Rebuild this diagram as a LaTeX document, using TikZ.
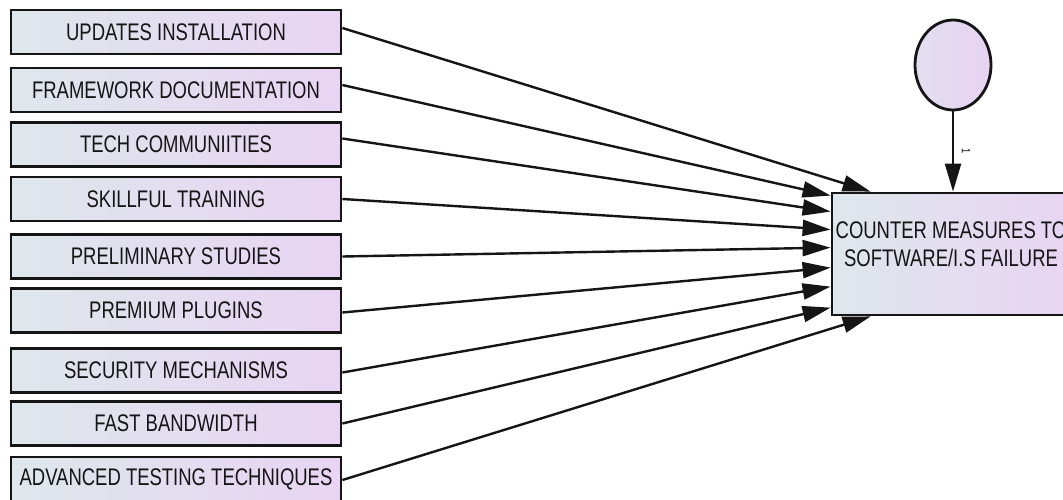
\documentclass[tikz,border=0pt]{standalone}
\usepackage{fontspec}
\newfontfamily\lblfont[FakeStretch=0.77]{Liberation Sans}
\usetikzlibrary{arrows.meta,shapes.geometric}
\definecolor{boxleft}{HTML}{DEE7EC}
\definecolor{boxright}{HTML}{E8D4F3}
\definecolor{circleft}{HTML}{E3DEEF}
\definecolor{circright}{HTML}{E7D3F2}
\definecolor{inkc}{HTML}{151515}
\tikzset{
  obsbox/.style={rectangle, draw=inkc, line width=2.8pt, left color=boxleft, right color=boxright,
    minimum width=330pt, minimum height=44pt, inner sep=0pt, text=inkc,
    font=\lblfont\fontsize{24}{28}\selectfont},
  tgtbox/.style={rectangle, draw=inkc, line width=2.8pt, left color=boxleft, right color=boxright,
    minimum width=238pt, minimum height=122pt, inner sep=0pt},
  tgttext/.style={align=center, inner sep=0pt, text=inkc, font=\lblfont\fontsize{24}{28}\selectfont},
  errcirc/.style={ellipse, draw=inkc, line width=2.8pt, left color=circleft, right color=circright,
    minimum width=76pt, minimum height=90pt, inner sep=0pt},
  conn/.style={draw=inkc, line width=2.4pt, -{Triangle[length=28pt,width=16pt]}},
  pathlbl/.style={font=\lblfont\fontsize{12}{12}\selectfont, text=inkc, rotate=-90, inner sep=0pt}
}
\begin{document}
\begin{tikzpicture}[x=1pt,y=-1pt]
\clip (0,0) rectangle (1063,499);
\fill[white] (0,0) rectangle (1063,499);
% observed variables
\node[obsbox] (s1) at (176,32) {UPDATES INSTALLATION};
\node[obsbox] (s2) at (176,90) {FRAMEWORK DOCUMENTATION};
\node[obsbox] (s3) at (176,144.5) {TECH COMMUNIITIES};
\node[obsbox] (s4) at (176,199) {SKILLFUL TRAINING};
\node[obsbox] (s5) at (176,256.5) {PRELIMINARY STUDIES};
\node[obsbox] (s6) at (176,310.5) {PREMIUM PLUGINS};
\node[obsbox] (s7) at (176,370.5) {SECURITY MECHANISMS};
\node[obsbox] (s8) at (176,423.5) {FAST BANDWIDTH};
\node[obsbox] (s9) at (176,479) {ADVANCED TESTING TECHNIQUES};
% target
\node[tgtbox] (tgt) at (951,254) {};
\node[tgttext] (tgtlabel) at (951,244) {COUNTER MEASURES TO\\SOFTWARE/I.S FAILURE};
% error term
\node[errcirc] (err) at (953,65) {};
% connectors
\draw[conn] ([yshift=4pt]s1.east) -- ([xshift=40pt]tgt.north west);
\draw[conn] ([yshift=5pt]s2.east) -- ([yshift=-4pt]tgt.north west);
\draw[conn] ([yshift=6pt]s3.east) -- ([yshift=-20pt]tgt.north west);
\draw[conn] (s4.east) -- ([yshift=-38pt]tgt.north west);
\draw[conn] (s5.east) -- ([yshift=-56pt]tgt.north west);
\draw[conn] ([yshift=-2pt]s6.east) -- ([yshift=-76pt]tgt.north west);
\draw[conn] ([yshift=-2pt]s7.east) -- ([yshift=-95pt]tgt.north west);
\draw[conn] (s8.east) -- ([yshift=-116pt]tgt.north west);
\draw[conn] ([yshift=-1pt]s9.east) -- ([xshift=40pt]tgt.south west);
\draw[conn] (err.south) -- node[midway, xshift=13pt, pathlbl] (w1) {1} (err.south |- tgt.north);
\end{tikzpicture}
\end{document}
